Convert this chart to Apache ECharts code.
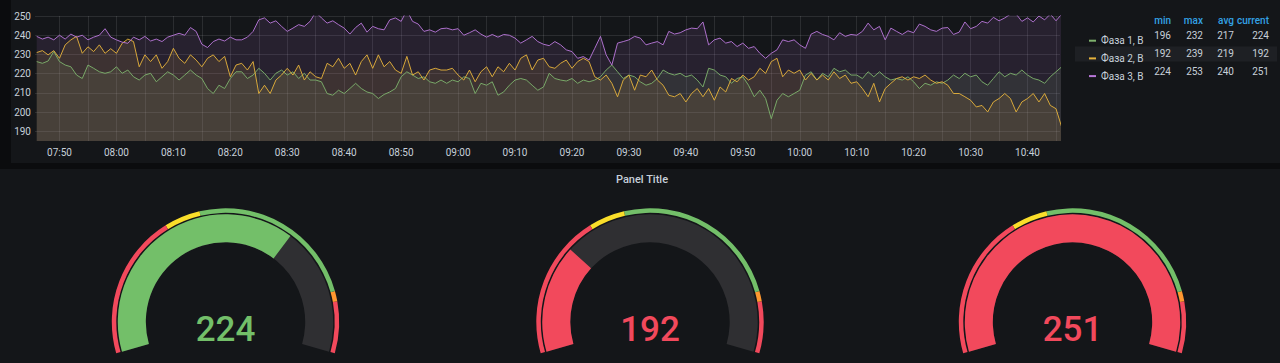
<!DOCTYPE html>
<html><head><meta charset="utf-8">
<script src="https://cdn.jsdelivr.net/npm/echarts@6/dist/echarts.min.js"></script>
<style>
html,body{margin:0;padding:0;background:#0b0c0e;width:1280px;height:363px;overflow:hidden}
.panel{position:absolute;background:#141619}
#chart{position:absolute;left:0;top:0;width:1280px;height:363px}
</style></head><body>
<div class="panel" style="left:11px;top:0;width:1269px;height:163px"></div>
<div class="panel" style="left:0;top:169px;width:1280px;height:194px"></div>
<div id="chart"></div>
<script>
// ---- data (one sample per minute starting 07:46) ----
const startHour = 7, startMinute = 46;
const seriesNames = ['Фаза 1, В', 'Фаза 2, В', 'Фаза 3, В'];
const phase1 = [226.3,225.4,226.6,231.5,226.3,224.5,223.6,219.3,217.5,224.5,222.8,221,220.2,221,223.6,220.2,221.9,218.4,216.7,219.3,220.2,215.8,218.4,221,219.3,216.7,219.3,221.9,219.3,217.5,212.3,209.7,214,212.3,217.5,221,
221,217.5,219.3,222.8,220.2,216.7,220.2,221.9,219.3,221,217.5,220.2,216.7,216.7,215.8,209.7,208.8,211.4,209.7,212.3,215,212.3,210.5,209.7,207.1,209.2,210.5,212.3,218.4,221,219.3,217.5,218.4,215.8,215,216.7,
215,216.7,215.8,218.4,217.5,209.7,215,214,215.8,208.8,210.5,214,216.7,217.5,216.7,214,211.4,213.1,220.2,217.5,216.7,216.2,217.5,215,216.7,215.8,216.7,218.4,221.9,224.5,221,217.5,219.3,218.4,215.8,214,
215,217.5,221.9,220.2,219.3,220.2,218.4,219.3,216.7,213.1,222.8,221.9,219.3,218.4,215,217.5,218.4,214,208,211.4,207.1,196.6,206.2,209.7,208,209.7,211.4,219.3,221,216.7,220.2,218.4,222.8,221,221.9,219.3,
219.3,217.5,221,218.4,221,218.4,216.7,217.5,216.7,218.4,215.8,212.3,215,214,215.8,215,216.7,219.3,217.5,220.2,218.4,219.3,215.8,214,217.5,221,218.4,220.2,219.3,221.9,219.3,217.5,216.7,215,218.4,221,223.6];
const phase2 = [231,232,229.8,232,228,235,237.6,239.4,230.6,234,231.5,235,230.6,233,230.6,235.8,238,236.7,223.6,229.8,226.3,229.8,222.8,226.3,233.2,228,225.4,229.8,227.1,223.6,228,229.8,226.3,229,218.4,224.5,
225.4,221.9,226.3,209.7,214,209.7,216.7,219.3,222.8,219.3,224.5,216.7,221,218.4,217.5,225.4,223.6,228,222.8,225.4,219.3,226.3,229.8,222.8,229.8,223.6,226.3,221.9,220.2,229,219.3,221,216.7,221.9,222.8,221.9,
221.9,222.8,219.3,216.7,221.9,215.8,221,223.6,218.4,223.6,221,225.4,221.9,228,229.8,221.9,227.1,228,223.6,222.8,225.4,227.1,222.8,226.3,228,226.3,218.4,216.7,219.3,215,208,216.7,219.3,211.4,219.3,218.4,
221.9,216.7,214,208.8,208,209.7,205.3,209.7,212.3,208,212.3,206.2,213.1,210.5,217.5,215.8,219.3,216.7,218.4,222.8,220.2,226.3,228,218.4,221.9,220.2,221.9,216.7,220.2,216.7,219.3,216.7,221,217.5,219.3,215,
215.8,212.3,208,215,205.3,212.3,215,217.5,218.4,216.7,218.4,217.5,219.3,216.7,215,215.8,214,209.7,209.7,208,206.2,202.7,203.5,200.1,205.3,207.1,209.7,207.1,200.1,205.3,207.1,209.7,205.3,209.7,203.5,201.8,192.2];
const phase3 = [239.4,238,239,237.6,240,238,240.6,239,240,237.6,239,240,243.4,239,237.6,236.4,235.8,239,237.6,239.4,237,238,236.7,239,240,241,240,244,242,235.3,233.6,236.7,238,237,239,237.6,
237.6,239,242,248,249,246.3,247.5,244.6,242,243.7,245.5,244.6,247.2,252,249,246.3,247.5,245.5,243.7,240.6,244,246.3,241.6,244.6,243.4,242.8,248,249,247.2,253,247.2,245.8,242,242.8,241.6,243.4,
243.7,242.8,243.4,240,241.3,242.8,240.6,239,240.4,239,240.4,240,238.5,235.9,237.6,239.4,236.7,235.3,234.6,236.7,235,232.4,231.5,228,228.9,227.1,233.2,239.4,229.8,224.5,235.9,236.7,237.6,239.4,238.5,235,
235.9,236.7,235,242,240.6,241.3,242.8,243.7,243.4,246.9,235,237.6,238.5,235.9,236.7,234.1,235.9,233.2,234.1,230.6,228,230.6,232.4,237.6,236.7,237.6,235,233.2,240.6,242,240.4,239.4,237.6,241.3,239.4,240.4,
240,242,246.3,242.8,244.6,237.6,243.7,242,240.4,242.3,241.3,245.8,244.6,242.8,242,243.7,244,240.4,241.6,246.9,243.4,244.6,247.2,246.3,249.3,247.5,249,251,251,247.2,249,246.9,250,248,251,247.5,251];
const yTicks = [190, 200, 210, 220, 230, 240, 250];
// legend table
const statHeaders = ['min', 'max', 'avg', 'current'];
const statMin = [196, 192, 224];
const statMax = [232, 239, 253];
const statAvg = [217, 219, 240];
const statCur = [224, 192, 251];
// gauges
const gaugeValues = [224, 192, 251];
const gaugeMin = 170, gaugeMax = 250;
const thresholdSteps = [198, 205, 238, 240];
const panelTitle = 'Panel Title';

// ---- styles ----
const lineColors = ['#7EB26D', '#E5B23C', '#B877D9'];
const txt = '#c7d0d9';
const FONT = 'Roboto, "Noto Sans", sans-serif';
const G = { green: '#73BF69', yellow: '#FADE2A', orange: '#FF9830', red: '#F2495C' };

const base = Date.UTC(2021, 0, 1, startHour, startMinute);
const toPairs = arr => arr.map((v, i) => [base + i * 60000, v]);
const xMin = base - 18000, xMax = xMin + 3 * 3600000;
const pad = n => (n < 10 ? '0' : '') + n;

const lineSeries = [phase1, phase2, phase3].map((arr, k) => ({
  type: 'line', name: seriesNames[k], data: toPairs(arr), showSymbol: false, symbol: 'none',
  lineStyle: { width: 1, color: lineColors[k], opacity: 0.92 }, itemStyle: { color: lineColors[k] },
  areaStyle: { color: lineColors[k], opacity: 0.12, origin: 'start' },
  animation: false, clip: true, z: 2
}));

function thrColor(v) {
  let c = G.red;
  if (v >= thresholdSteps[0]) c = G.yellow;
  if (v >= thresholdSteps[1]) c = G.green;
  if (v >= thresholdSteps[2]) c = G.orange;
  if (v >= thresholdSteps[3]) c = G.red;
  return c;
}
const frac = v => (v - gaugeMin) / (gaugeMax - gaugeMin);
const ringStops = [[frac(thresholdSteps[0]), G.red], [frac(thresholdSteps[1]), G.yellow],
  [frac(thresholdSteps[2]), G.green], [frac(thresholdSteps[3]), G.orange], [1, G.red]];
const gaugeCenters = [225.5, 650, 1072.5];
const gaugeCY = 322;
const common = { startAngle: 196, endAngle: -16, min: gaugeMin, max: gaugeMax, pointer: { show: false },
  axisTick: { show: false }, splitLine: { show: false }, axisLabel: { show: false }, title: { show: false },
  animation: false };
const gaugeSeries = [];
gaugeValues.forEach((v, k) => {
  gaugeSeries.push(Object.assign({}, common, {
    type: 'gauge', center: [gaugeCenters[k], gaugeCY], radius: 113.7,
    axisLine: { lineStyle: { width: 4.5, color: ringStops } },
    detail: { show: false }, data: [{ value: v }]
  }));
  const col = thrColor(v);
  gaugeSeries.push(Object.assign({}, common, {
    type: 'gauge', center: [gaugeCenters[k], gaugeCY], radius: 107.7,
    axisLine: { lineStyle: { width: 28, color: [[1, '#2f2f32']] } },
    progress: { show: true, width: 28, roundCap: false, itemStyle: { color: col } },
    detail: { show: true, offsetCenter: [0, 7], fontSize: 35, fontWeight: 500, fontFamily: FONT,
      color: col, formatter: '{value}', valueAnimation: false },
    data: [{ value: v }]
  }));
});

// legend table graphics
const colRight = [1171, 1203, 1234, 1269];
const rowY = [35.7, 53.3, 71];
const graphics = [];
graphics.push({ type: 'rect', shape: { x: 1075, y: 46.5, width: 202, height: 15 }, style: { fill: '#1e2024' }, z: -1 });
statHeaders.forEach((h, j) => graphics.push({ type: 'text', x: colRight[j], y: 20,
  style: { text: h, fill: '#33a2e5', font: '500 10px ' + FONT, textAlign: 'right', textVerticalAlign: 'middle' } }));
[statMin, statMax, statAvg, statCur].forEach((arr, j) => arr.forEach((v, r) => graphics.push({ type: 'text', x: colRight[j], y: rowY[r],
  style: { text: String(v), fill: txt, font: '10px ' + FONT, textAlign: 'right', textVerticalAlign: 'middle' } })));
graphics.push({ type: 'text', x: 642, y: 179, style: { text: panelTitle, fill: txt, font: '500 11px ' + FONT, textAlign: 'center', textVerticalAlign: 'middle' } });

const chart = echarts.init(document.getElementById('chart'), null, { renderer: 'svg' });
chart.setOption({
  backgroundColor: 'transparent',
  useUTC: true,
  animation: false,
  textStyle: { fontFamily: FONT },
  grid: { left: 35, right: 220, top: 16, bottom: 222, containLabel: false },
  xAxis: {
    type: 'time', min: xMin, max: xMax, minInterval: 600000, maxInterval: 600000,
    axisLine: { show: false }, axisTick: { show: false },
    axisLabel: { color: txt, fontSize: 10, margin: 6, showMinLabel: false, showMaxLabel: false, hideOverlap: true,
      formatter: v => { const d = new Date(v); return pad(d.getUTCHours()) + ':' + pad(d.getUTCMinutes()); } },
    splitLine: { show: true, showMinLine: false, showMaxLine: false, lineStyle: { color: 'rgba(255,255,255,0.1)', width: 1 } }
  },
  yAxis: {
    type: 'value', min: 185, max: 250, interval: 5,
    axisLine: { show: false }, axisTick: { show: false },
    axisLabel: { color: txt, fontSize: 10, margin: 4, formatter: v => (yTicks.indexOf(v) >= 0 ? String(v) : '') },
    splitLine: { show: true, lineStyle: { color: ['rgba(0,0,0,0)', 'rgba(255,255,255,0.1)'], width: 1 } }
  },
  legend: {
    orient: 'vertical', left: 1084, top: 28.7, itemWidth: 7, itemHeight: 2, itemGap: 3.7, icon: 'rect',
    selectedMode: false, data: seriesNames,
    textStyle: { color: txt, fontSize: 10, lineHeight: 14, fontFamily: FONT }
  },
  graphic: graphics,
  series: lineSeries.concat(gaugeSeries)
});
</script></body></html>
